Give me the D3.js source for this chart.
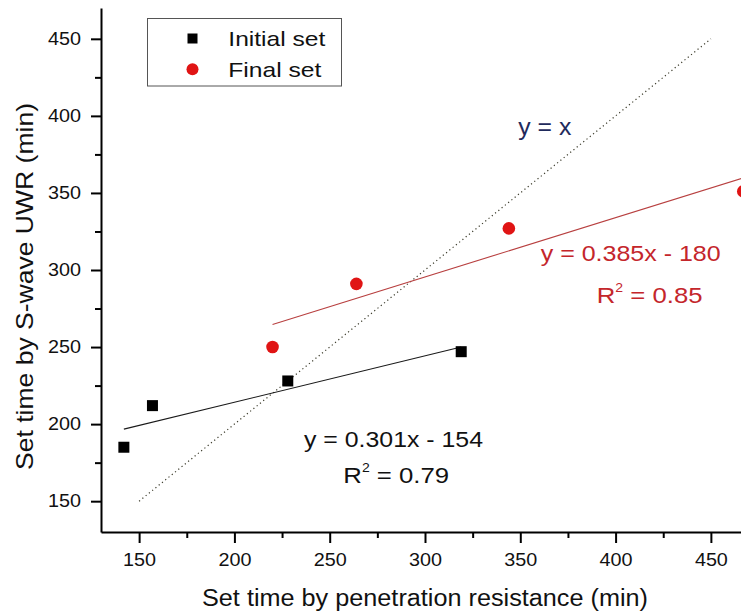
<!DOCTYPE html>
<html>
<head>
<meta charset="utf-8">
<script src="https://cdn.jsdelivr.net/npm/d3@7"></script>
<style>
  body { margin: 0; background: #fff; }
  svg { display: block; font-family: "Liberation Sans", Arial, sans-serif; }
</style>
</head>
<body>
<svg id="chart" width="741" height="614"></svg>
<script>
// values
const initialX = [142, 157, 228, 319];
const initialY = [185, 212, 228, 247];
const finalX = [220, 264, 344, 467];
const finalY = [250, 291, 327, 351];
const fitSlopes = [0.301, 0.385];
const fitIntercepts = [154, 180];
const fitSpans = [[142, 319], [220, 467]];
const identitySpan = [150, 450];
const majorTicks = [150, 200, 250, 300, 350, 400, 450];
const minorTicks = [175, 225, 275, 325, 375, 425];
const seriesNames = ['Initial set', 'Final set'];
const equations = ['y = 0.301x - 154', 'y = 0.385x - 180'];
const rSquared = [' = 0.79', ' = 0.85'];

const FONT = '"Liberation Sans", Arial, sans-serif';
const RED = '#e01414';
const RED_TEXT = '#c4262b';

const svg = d3.select('#chart');

const xScale = d3.scaleLinear().domain([130, 470]).range([101, 749]);
const yScale = d3.scaleLinear().domain([130, 470]).range([532, 8]);

function styleAxis(g) {
  g.select('.domain').attr('stroke', '#000').attr('stroke-width', 2);
  g.selectAll('.tick line').attr('stroke', '#000').attr('stroke-width', 2);
  g.selectAll('.tick text')
    .attr('font-family', FONT)
    .attr('font-size', 18)
    .attr('fill', '#111')
    .attr('textLength', 33)
    .attr('lengthAdjust', 'spacingAndGlyphs');
}

function drawXAxis() {
  const major = d3.axisBottom(xScale)
    .tickValues(majorTicks)
    .tickSize(11)
    .tickPadding(10)
    .tickSizeOuter(0);
  const minor = d3.axisBottom(xScale)
    .tickValues(minorTicks)
    .tickSize(6)
    .tickFormat('');
  const y0 = yScale(130);
  svg.append('g').attr('class', 'xMinor')
    .attr('transform', `translate(0, ${y0})`)
    .call(minor)
    .call((g) => { g.select('.domain').remove(); styleAxis(g); });
  svg.append('g').attr('class', 'xAxis')
    .attr('transform', `translate(0, ${y0})`)
    .call(major)
    .call(styleAxis);
}

function drawYAxis() {
  const major = d3.axisLeft(yScale)
    .tickValues(majorTicks)
    .tickSize(10)
    .tickPadding(10)
    .tickSizeOuter(0);
  const minor = d3.axisLeft(yScale)
    .tickValues(minorTicks)
    .tickSize(6)
    .tickFormat('');
  const x0 = xScale(130);
  svg.append('g').attr('class', 'yMinor')
    .attr('transform', `translate(${x0}, 0)`)
    .call(minor)
    .call((g) => { g.select('.domain').remove(); styleAxis(g); });
  svg.append('g').attr('class', 'yAxis')
    .attr('transform', `translate(${x0}, 0)`)
    .call(major)
    .call(styleAxis);
}

function drawLines() {
  const line = d3.line().x((d) => xScale(d[0])).y((d) => yScale(d[1]));
  svg.append('path')
    .datum(identitySpan.map((v) => [v, v]))
    .attr('d', line)
    .attr('fill', 'none')
    .attr('stroke', '#3a3a2a')
    .attr('stroke-width', 1.2)
    .attr('stroke-dasharray', '1.2 3');
  const colors = ['#1a1a1a', '#b84040'];
  fitSpans.forEach((span, i) => {
    svg.append('path')
      .datum(span.map((v) => [v, fitSlopes[i] * v + fitIntercepts[i]]))
      .attr('d', line)
      .attr('fill', 'none')
      .attr('stroke', colors[i])
      .attr('stroke-width', 1.1);
  });
}

function drawPoints() {
  const size = 11;
  svg.append('g').selectAll('rect')
    .data(initialX.map((x, i) => [x, initialY[i]]))
    .join('rect')
    .attr('x', (d) => xScale(d[0]) - size / 2)
    .attr('y', (d) => yScale(d[1]) - size / 2)
    .attr('width', size)
    .attr('height', size)
    .attr('fill', '#000');
  svg.append('g').selectAll('circle')
    .data(finalX.map((x, i) => [x, finalY[i]]))
    .join('circle')
    .attr('cx', (d) => xScale(d[0]))
    .attr('cy', (d) => yScale(d[1]))
    .attr('r', 6.3)
    .attr('fill', RED);
}

function addText(x, y, str, size, fill, len) {
  const t = svg.append('text')
    .attr('x', x).attr('y', y)
    .attr('font-family', FONT)
    .attr('font-size', size)
    .attr('fill', fill)
    .text(str);
  if (len) t.attr('textLength', len).attr('lengthAdjust', 'spacingAndGlyphs');
  return t;
}

function addRSquared(x, y, value, fill) {
  const g = svg.append('g').attr('transform', `translate(${x}, ${y}) scale(1.17, 1)`);
  const t = g.append('text')
    .attr('font-family', FONT)
    .attr('font-size', 22)
    .attr('fill', fill);
  t.append('tspan').text('R');
  t.append('tspan').attr('font-size', 12).attr('dy', -11).text('2');
  t.append('tspan').attr('dy', 11).text(value);
}

function drawLegend() {
  svg.append('rect')
    .attr('x', 147.5).attr('y', 18.5)
    .attr('width', 194).attr('height', 67.5)
    .attr('fill', '#fff')
    .attr('stroke', '#555')
    .attr('stroke-width', 1);
  svg.append('rect')
    .attr('x', 187.5).attr('y', 33.5)
    .attr('width', 10).attr('height', 10)
    .attr('fill', '#000');
  svg.append('circle')
    .attr('cx', 192.5).attr('cy', 69.3)
    .attr('r', 6)
    .attr('fill', RED);
  addText(228.3, 46, seriesNames[0], 21, '#111', 97);
  addText(228.3, 76.7, seriesNames[1], 21, '#111', 93);
}

function drawLabels() {
  addText(425, 606, 'Set time by penetration resistance (min)', 23, '#111', 446)
    .attr('text-anchor', 'middle');
  svg.append('text')
    .attr('transform', 'translate(32.7, 286.5) rotate(-90)')
    .attr('text-anchor', 'middle')
    .attr('font-family', FONT)
    .attr('font-size', 24)
    .attr('fill', '#111')
    .attr('textLength', 367)
    .attr('lengthAdjust', 'spacingAndGlyphs')
    .text('Set time by S-wave UWR (min)');

  addText(518.3, 135, 'y = x', 24, '#1f2a5c', 53);
  addText(540.7, 261, equations[1], 22, RED_TEXT, 180);
  addRSquared(596.7, 303.3, rSquared[1], RED_TEXT);
  addText(304, 447.3, equations[0], 22, '#111', 179);
  addRSquared(343.3, 483.3, rSquared[0], '#111');
}

drawLines();
drawXAxis();
drawYAxis();
drawPoints();
drawLegend();
drawLabels();
</script>
</body>
</html>
